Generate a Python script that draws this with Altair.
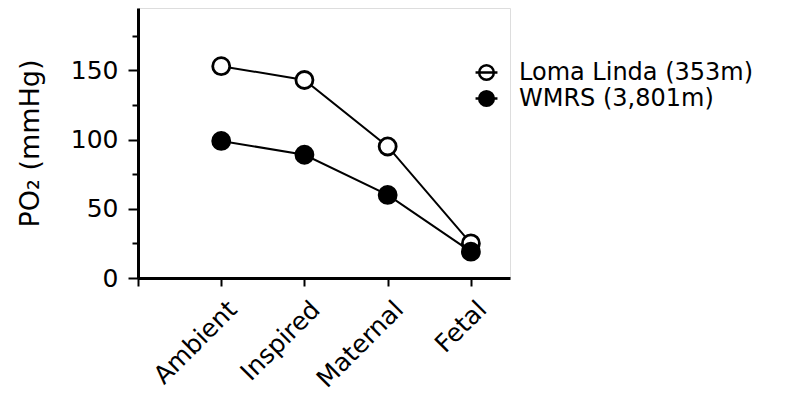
import altair as alt
import pandas as pd

categories = ["Ambient", "Inspired", "Maternal", "Fetal"]
positions = [1, 2, 3, 4]
series_names = ["Loma Linda (353m)", "WMRS (3,801m)"]
loma_linda = [153, 143, 95, 25]
wmrs = [99, 89, 60, 19]
y_ticks = [0, 25, 50, 75, 100, 125, 150, 175]

rows = []
for name, vals in zip(series_names, [loma_linda, wmrs]):
    for cat, pos, v in zip(categories, positions, vals):
        rows.append({"series": name, "category": cat, "pos": pos, "po2": v})
df = pd.DataFrame(rows)

FONT = "DejaVu Sans"
label_expr = "{1:'Ambient',2:'Inspired',3:'Maternal',4:'Fetal'}[datum.value] || ''"

x_enc = alt.X(
    "pos:Q",
    scale=alt.Scale(domain=[0, 4.47], nice=False, zero=False),
    axis=alt.Axis(
        values=[0, 1, 2, 3, 4],
        labelExpr=label_expr,
        labelAngle=-45,
        labelAlign="right",
        labelBaseline="middle",
        labelPadding=19,
        labelOffset=11,
        labelOverlap=False,
        labelFont=FONT,
        labelFontSize=25,
        labelColor="black",
        tickSize=8,
        tickWidth=2,
        tickColor="black",
        domainWidth=3,
        domainColor="black",
        grid=False,
        title=None,
    ),
)
y_enc = alt.Y(
    "po2:Q",
    scale=alt.Scale(domain=[0, 195], nice=False),
    axis=alt.Axis(
        values=y_ticks,
        labelExpr="datum.value % 50 === 0 ? datum.label : ''",
        tickSize={"condition": {"test": "datum.value % 50 === 0", "value": 10}, "value": 6},
        tickWidth=2,
        tickColor="black",
        domainWidth=3,
        domainColor="black",
        labelFont=FONT,
        labelFontSize=25,
        labelColor="black",
        labelPadding=10,
        labelOverlap=False,
        grid=False,
        title="PO₂ (mmHg)",
        titleFont=FONT,
        titleFontSize=27,
        titleFontWeight="normal",
        titleColor="black",
        titlePadding=26,
    ),
)

lines = alt.Chart(df).mark_line(color="black", strokeWidth=2).encode(
    x=x_enc, y=y_enc, detail="series:N"
)

legend_symbol = "M-1,0 L-0.67,0 M0.67,0 L1,0 M-0.67,0 A0.67,0.67 0 1,1 0.67,0 A0.67,0.67 0 1,1 -0.67,0 M-0.67,0 L0.67,0"

points = alt.Chart(df).mark_point(
    shape="circle", filled=True, size=290, stroke="black", strokeWidth=2.8, opacity=1
).encode(
    x=x_enc,
    y=y_enc,
    fill=alt.Fill(
        "series:N",
        scale=alt.Scale(domain=series_names, range=["white", "black"]),
        legend=alt.Legend(
            title=None,
            orient="none",
            legendX=336,
            legendY=52,
            symbolType=legend_symbol,
            symbolSize=480,
            symbolStrokeColor="black",
            symbolStrokeWidth=2.5,
            labelFont=FONT,
            labelFontSize=24,
            labelColor="black",
            labelOffset=20,
            labelLimit=0,
            rowPadding=1,
        ),
    ),
    order=alt.Order("pos:Q"),
)

chart = (
    alt.layer(lines, points)
    .properties(
        width=372,
        height=270,
        autosize=alt.AutoSizeParams(type="none"),
        padding={"left": 130, "top": 0, "right": 270, "bottom": 119},
    )
    .configure_view(strokeWidth=0, stroke="transparent")
    .configure(background="white")
)

chart.save("out.html", embed_options={"renderer": "svg", "actions": False})
